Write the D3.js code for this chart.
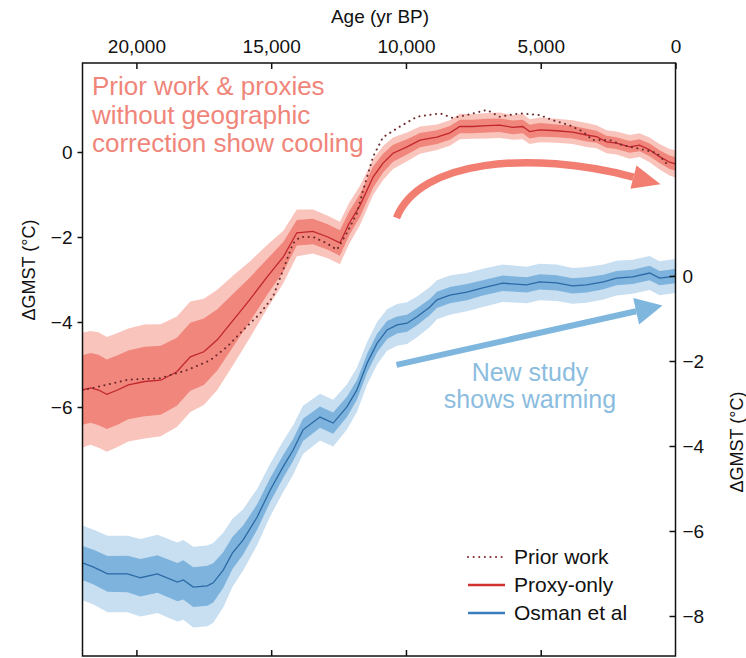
<!DOCTYPE html>
<html>
<head>
<meta charset="utf-8">
<script src="https://cdn.jsdelivr.net/npm/d3@7"></script>
<style>
  body { margin: 0; background: #fff; }
  svg text { font-family: "Liberation Sans", Arial, Helvetica, sans-serif; }
</style>
</head>
<body>
<div id="chart"></div>
<script>
// --- data (age in yr BP, temperature anomaly in degC) ---
var proxyAge   = [22000, 21700, 21400, 21100, 20700, 20300, 19700, 19100, 18500, 18000, 17500, 17000,
                  16400, 15800, 15150, 14550, 14050, 13450, 12900, 12450, 12100, 11700, 11220, 10850,
                  10480, 9960, 9480, 8850, 8370, 8000, 7520, 7000, 6520, 6040, 5670, 5410, 5040,
                  4410, 3820, 3300, 2930, 2560, 2190, 1700, 1330, 960, 590, 220, 0];
var proxyMean  = [-5.60, -5.55, -5.60, -5.70, -5.60, -5.48, -5.40, -5.37, -5.17, -4.82, -4.70, -4.42,
                  -3.95, -3.48, -2.94, -2.47, -1.90, -1.87, -2.00, -2.14, -1.67, -1.25, -0.59, -0.26,
                  -0.03, 0.12, 0.28, 0.35, 0.45, 0.60, 0.60, 0.62, 0.63, 0.58, 0.60, 0.48, 0.52,
                  0.50, 0.47, 0.40, 0.36, 0.24, 0.21, 0.12, 0.16, 0.05, -0.11, -0.24, -0.28];
// half widths of the inner and outer uncertainty bands
var proxyInner = [0.82, 0.82, 0.83, 0.82, 0.82, 0.81, 0.82, 0.81, 0.80, 0.80, 0.78, 0.72,
                  0.62, 0.52, 0.42, 0.35, 0.30, 0.30, 0.30, 0.30, 0.28, 0.27, 0.25, 0.22,
                  0.20, 0.18, 0.17, 0.16, 0.16, 0.16, 0.16, 0.16, 0.16, 0.16, 0.16, 0.16, 0.16,
                  0.15, 0.15, 0.15, 0.14, 0.14, 0.14, 0.14, 0.14, 0.15, 0.15, 0.16, 0.16];
var proxyOuter = [1.35, 1.34, 1.36, 1.35, 1.34, 1.33, 1.34, 1.32, 1.30, 1.30, 1.25, 1.18,
                  1.05, 0.90, 0.75, 0.62, 0.55, 0.52, 0.50, 0.50, 0.48, 0.46, 0.42, 0.40,
                  0.37, 0.34, 0.32, 0.30, 0.30, 0.30, 0.29, 0.30, 0.30, 0.29, 0.30, 0.29, 0.29,
                  0.28, 0.28, 0.28, 0.27, 0.27, 0.27, 0.28, 0.28, 0.29, 0.30, 0.31, 0.32];

var priorAge  = [22000, 21590, 20330, 19110, 18110, 17260, 16630, 16040, 15410, 14930, 14560, 14190,
                 13930, 13440, 12930, 12560, 12190, 11820, 11590, 11220, 10850, 10220, 9590, 8740,
                 8260, 7740, 7000, 6520, 5780, 5040, 4560, 3930, 3440, 3070, 2440, 1960, 1440, 700, 220];
var priorMean = [-5.60, -5.55, -5.36, -5.32, -5.13, -4.90, -4.58, -4.19, -3.80, -3.40, -2.78, -2.15,
                 -2.00, -2.00, -2.15, -2.30, -1.90, -1.44, -0.90, -0.11, 0.35, 0.60, 0.83, 0.91,
                 0.80, 0.87, 0.99, 0.83, 0.91, 0.87, 0.75, 0.63, 0.48, 0.28, 0.28, 0.16, 0.09, -0.02, -0.35];

var osmanAge   = [22000, 21590, 21070, 20330, 19850, 19220, 18480, 18260, 17890, 17370, 17150, 16780,
                  16440, 16040, 15520, 15040, 14560, 14190, 13820, 13190, 12700, 12190, 11820, 11440,
                  11070, 10700, 10330, 9960, 9590, 9110, 8850, 8370, 7740, 7150, 6410, 5520, 5040,
                  4410, 3820, 3300, 2670, 2190, 1590, 960, 590, 220, 0];
var osmanMean  = [-6.75, -6.85, -7.01, -7.01, -7.10, -7.01, -7.20, -7.15, -7.32, -7.29, -7.22, -6.92,
                  -6.52, -6.21, -5.67, -5.04, -4.49, -4.10, -3.62, -3.32, -3.46, -3.08, -2.68, -2.05,
                  -1.58, -1.27, -1.15, -1.11, -0.96, -0.73, -0.56, -0.45, -0.38, -0.28, -0.17, -0.21, -0.14,
                  -0.16, -0.23, -0.21, -0.14, -0.05, -0.02, 0.07, -0.05, -0.02, 0.00];
var osmanInner = [0.40, 0.41, 0.42, 0.43, 0.44, 0.44, 0.45, 0.46, 0.47, 0.47, 0.46, 0.42,
                  0.38, 0.34, 0.30, 0.28, 0.27, 0.26, 0.26, 0.25, 0.25, 0.24, 0.23, 0.22,
                  0.22, 0.21, 0.20, 0.20, 0.20, 0.19, 0.19, 0.19, 0.19, 0.18, 0.18, 0.18, 0.18,
                  0.18, 0.18, 0.18, 0.17, 0.17, 0.17, 0.17, 0.17, 0.17, 0.17];
var osmanOuter = [0.88, 0.88, 0.90, 0.90, 0.91, 0.92, 0.93, 0.94, 0.95, 0.95, 0.94, 0.88,
                  0.80, 0.72, 0.66, 0.62, 0.60, 0.58, 0.57, 0.55, 0.55, 0.53, 0.52, 0.50,
                  0.50, 0.49, 0.49, 0.49, 0.48, 0.47, 0.46, 0.46, 0.45, 0.45, 0.44, 0.43, 0.43,
                  0.43, 0.42, 0.42, 0.41, 0.41, 0.40, 0.40, 0.40, 0.40, 0.40];

var xTicks = [20000, 15000, 10000, 5000, 0];
var leftTicks = [0, -2, -4, -6];
var rightTicks = [0, -2, -4, -6, -8];
var legendLabels = ["Prior work", "Proxy-only", "Osman et al"];
var coolingText = ["Prior work & proxies", "without geographic", "correction show cooling"];
var warmingText = ["New study", "shows warming"];

// --- layout ---
const width = 746, height = 658;
const plot = {left: 82.5, right: 675.5, top: 63, bottom: 656};

var svg = d3.select("#chart").append("svg")
  .attr("width", width)
  .attr("height", height);

var x = d3.scaleLinear().domain([22000, 0]).range([plot.left, plot.right]);
// left axis belongs to the red curves, right axis to the blue one
var yL = d3.scaleLinear().domain([0, -6]).range([152, 407]);
var yR = d3.scaleLinear().domain([0, -8]).range([276, 616]);

function rows(ages, mean, inner, outer) {
  return ages.map(function(a, i) {
    return {age: a, mean: mean[i], inner: inner ? inner[i] : 0, outer: outer ? outer[i] : 0};
  });
}
var proxy = rows(proxyAge, proxyMean, proxyInner, proxyOuter);
var prior = rows(priorAge, priorMean);
var osman = rows(osmanAge, osmanMean, osmanInner, osmanOuter);

svg.append("clipPath").attr("id", "clip")
  .append("rect")
  .attr("x", plot.left).attr("y", plot.top)
  .attr("width", plot.right - plot.left).attr("height", plot.bottom - plot.top);

var body = svg.append("g").attr("clip-path", "url(#clip)");

function band(y, key) {
  return d3.area()
    .x(function(d) { return x(d.age); })
    .y0(function(d) { return y(d.mean - d[key]); })
    .y1(function(d) { return y(d.mean + d[key]); });
}
function line(y) {
  return d3.line()
    .x(function(d) { return x(d.age); })
    .y(function(d) { return y(d.mean); });
}

// red: proxy-only
body.append("path").datum(proxy).attr("d", band(yL, "outer")).attr("fill", "#f9c4bc");
body.append("path").datum(proxy).attr("d", band(yL, "inner")).attr("fill", "#f0867c");
body.append("path").datum(proxy).attr("d", line(yL))
  .attr("fill", "none").attr("stroke", "#c1272d").attr("stroke-width", 1.3);
// prior work, dotted
body.append("path").datum(prior).attr("d", line(yL))
  .attr("fill", "none").attr("stroke", "#6e2a2c").attr("stroke-width", 2)
  .attr("stroke-linecap", "round").attr("stroke-dasharray", "0.1,5.5");

// blue: Osman et al
body.append("path").datum(osman).attr("d", band(yR, "outer")).attr("fill", "#c8def1");
body.append("path").datum(osman).attr("d", band(yR, "inner")).attr("fill", "#7db3dc");
body.append("path").datum(osman).attr("d", line(yR))
  .attr("fill", "none").attr("stroke", "#2c6aa6").attr("stroke-width", 1.3);

// --- annotation arrows (points given in data units) ---
function arrow(pts, color, lw, headLen, headHalf) {
  var p = pts.map(function(q) { return [x(q[0]), q[2](q[1])]; });
  var end = p[p.length - 1], prev = p[p.length - 2];
  var dx = end[0] - prev[0], dy = end[1] - prev[1];
  var n = Math.sqrt(dx * dx + dy * dy);
  dx /= n; dy /= n;
  var d = p.length == 4
    ? "M" + p[0] + "C" + p[1] + " " + p[2] + " " + p[3]
    : "M" + p[0] + "L" + p[1];
  svg.append("path").attr("d", d)
    .attr("fill", "none").attr("stroke", color).attr("stroke-width", lw);
  var tip = [end[0] + dx * headLen, end[1] + dy * headLen];
  var b1 = [end[0] - dy * headHalf, end[1] + dx * headHalf];
  var b2 = [end[0] + dy * headHalf, end[1] - dx * headHalf];
  svg.append("path").attr("d", "M" + tip + "L" + b1 + "L" + b2 + "Z").attr("fill", color);
}
arrow([[10350, -1.55, yL], [9500, -0.19, yL], [5420, 0.05, yL], [1560, -0.59, yL]], "#f27e71", 7.5, 28, 12);
arrow([[10350, -2.09, yR], [1460, -0.83, yR]], "#7eb6dd", 6, 27, 13.5);

svg.append("g").selectAll("text")
  .data(coolingText).enter().append("text")
  .attr("x", 92)
  .attr("y", function(d, i) { return 95 + i * 28.5; })
  .attr("font-size", 26)
  .attr("fill", "#f0857a")
  .text(function(d) { return d; });

svg.append("g").selectAll("text")
  .data(warmingText).enter().append("text")
  .attr("x", 530)
  .attr("y", function(d, i) { return 381 + i * 27; })
  .attr("font-size", 25)
  .attr("text-anchor", "middle")
  .attr("fill", "#8bbde0")
  .text(function(d) { return d; });

// --- frame and axes ---
svg.append("rect")
  .attr("x", plot.left).attr("y", plot.top)
  .attr("width", plot.right - plot.left).attr("height", plot.bottom - plot.top)
  .attr("fill", "none").attr("stroke", "#111").attr("stroke-width", 1.5);

function styleAxis(g, size) {
  g.select(".domain").remove();
  g.selectAll(".tick line").attr("stroke", "#111").attr("stroke-width", 1.5);
  g.selectAll(".tick text").attr("fill", "#111").attr("font-size", size)
    .attr("font-family", "Liberation Sans, Arial, sans-serif");
}

svg.append("g")
  .attr("transform", "translate(0," + plot.top + ")")
  .call(d3.axisTop(x).tickValues(xTicks).tickFormat(d3.format(",")).tickSize(-6).tickPadding(10))
  .call(styleAxis, 19);

svg.append("g")
  .attr("transform", "translate(0," + plot.bottom + ")")
  .call(d3.axisBottom(x).tickValues(xTicks.slice(0, 4)).tickFormat("").tickSize(-6))
  .call(styleAxis, 19);

svg.append("g")
  .attr("transform", "translate(" + plot.left + ",0)")
  .call(d3.axisLeft(yL).tickValues(leftTicks).tickFormat(d3.format("d")).tickSize(5).tickPadding(5))
  .call(styleAxis, 19);

svg.append("g")
  .attr("transform", "translate(" + plot.right + ",0)")
  .call(d3.axisRight(yR).tickValues(rightTicks).tickFormat(d3.format("d")).tickSize(-6).tickPadding(7))
  .call(styleAxis, 19);

svg.append("text")
  .attr("x", 380).attr("y", 23)
  .attr("text-anchor", "middle").attr("font-size", 19).attr("fill", "#111")
  .text("Age (yr BP)");

svg.append("text")
  .attr("transform", "translate(35,270) rotate(-90)")
  .attr("text-anchor", "middle").attr("font-size", 18).attr("fill", "#111")
  .text("\u0394GMST (\u00b0C)");

svg.append("text")
  .attr("transform", "translate(743,442) rotate(-90)")
  .attr("text-anchor", "middle").attr("font-size", 18).attr("fill", "#111")
  .text("\u0394GMST (\u00b0C)");

// --- legend ---
var legendStyle = [
  {color: "#8a2a2e", dash: "0.1,5.5", cap: "round", w: 2},
  {color: "#d2322f", dash: null, cap: "butt", w: 2.5},
  {color: "#3a7cc0", dash: null, cap: "butt", w: 2.5}
];
var legend = svg.append("g").selectAll("g")
  .data(legendLabels).enter().append("g")
  .attr("transform", function(d, i) { return "translate(468," + (557 + i * 28) + ")"; });
legend.append("line")
  .attr("x1", 0).attr("x2", 37).attr("y1", 0).attr("y2", 0)
  .attr("stroke", function(d, i) { return legendStyle[i].color; })
  .attr("stroke-width", function(d, i) { return legendStyle[i].w; })
  .attr("stroke-linecap", function(d, i) { return legendStyle[i].cap; })
  .attr("stroke-dasharray", function(d, i) { return legendStyle[i].dash; });
legend.append("text")
  .attr("x", 46).attr("dy", "0.35em")
  .attr("font-size", 21).attr("fill", "#111")
  .text(function(d) { return d; });
</script>
</body>
</html>
